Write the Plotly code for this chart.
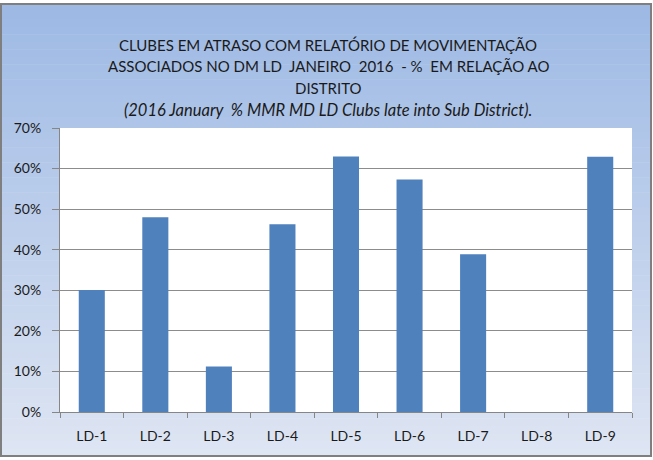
import plotly.graph_objects as go

categories = ["LD-1", "LD-2", "LD-3", "LD-4", "LD-5", "LD-6", "LD-7", "LD-8", "LD-9"]
values = [0.301, 0.48, 0.112, 0.463, 0.63, 0.573, 0.389, 0.0, 0.629]
y_ticks = [0, 0.1, 0.2, 0.3, 0.4, 0.5, 0.6, 0.7]
y_tick_labels = ["0%", "10%", "20%", "30%", "40%", "50%", "60%", "70%"]
title_lines = [
    "CLUBES EM ATRASO COM RELATÓRIO DE MOVIMENTAÇÃO",
    "ASSOCIADOS NO DM LD  JANEIRO  2016  - %  EM RELAÇÃO AO",
    "DISTRITO",
    "<i>(2016 January  % MMR MD LD Clubs late into Sub District).</i>",
]

W, H = 653, 460
L, R, T, B = 60, 21, 128, 48
FONT = "Lato"
TXT = "#1A1A1A"


def px(x):
    return (x - L) / (W - L - R)


def py(y):
    return (H - B - y) / (H - T - B)


fig = go.Figure()
fig.add_trace(go.Bar(
    x=categories, y=values,
    marker=dict(color="#4F81BD", line=dict(width=0)),
))

shapes = []
top = (157, 185, 228)
bot = (222, 229, 243)
n = 60
for i in range(n):
    t = i / (n - 1)
    c = tuple(round(top[k] + (bot[k] - top[k]) * t) for k in range(3))
    ya = 4 + (456 - 4) * i / n
    yb = 4 + (456 - 4) * (i + 1) / n + 0.5
    shapes.append(dict(type="rect", xref="paper", yref="paper",
                       x0=px(1), x1=px(651), y0=py(yb), y1=py(ya),
                       fillcolor="rgb(%d,%d,%d)" % c, line=dict(width=0),
                       layer="below"))
shapes.append(dict(type="rect", xref="paper", yref="paper",
                   x0=0, x1=1, y0=0, y1=1, fillcolor="white",
                   line=dict(width=0), layer="below"))
shapes.append(dict(type="rect", xref="paper", yref="paper",
                   x0=px(1), x1=px(651), y0=py(456), y1=py(4),
                   line=dict(color="#7F7F7F", width=2), layer="above"))

annotations = []
ys = [45, 66, 88, 110]
sizes = [15, 15, 15, 16.5]
for line, yy, sz in zip(title_lines, ys, sizes):
    annotations.append(dict(text=line, xref="paper", yref="paper",
                            x=px(328), y=py(yy), xanchor="center", yanchor="middle",
                            showarrow=False, font=dict(family=FONT, size=sz, color=TXT)))

fig.update_layout(
    width=W, height=H,
    margin=dict(l=L, r=R, t=T, b=B, autoexpand=False),
    paper_bgcolor="white", plot_bgcolor="white",
    showlegend=False, bargap=0.59,
    shapes=shapes, annotations=annotations,
    font=dict(family=FONT, size=14, color=TXT),
)
fig.update_xaxes(
    type="category", showline=True, linecolor="#868686", linewidth=1,
    ticks="outside", tickson="boundaries", ticklen=5, tickcolor="#868686",
    showgrid=False, automargin=False, ticklabelstandoff=11,
    tickfont=dict(family=FONT, size=14, color=TXT),
)
fig.update_yaxes(
    range=[0, 0.7], tickvals=y_ticks, ticktext=y_tick_labels,
    showline=True, linecolor="#868686", linewidth=1,
    ticks="outside", ticklen=7, tickcolor="#868686",
    showgrid=True, gridcolor="#8C8C8C", gridwidth=1, zeroline=False,
    automargin=False, ticklabelstandoff=8,
    tickfont=dict(family=FONT, size=14, color=TXT),
)

fig.write_html("out.html", config={"displayModeBar": False},
               post_script="document.body.style.margin='0';")
